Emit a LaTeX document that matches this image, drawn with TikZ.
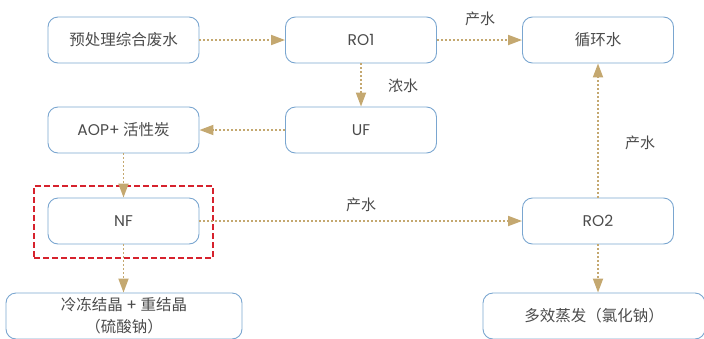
\documentclass[tikz,border=0pt]{standalone}
\usepackage{fontspec}
\setmainfont{Noto Sans CJK SC}
\newfontfamily\lat{Poppins}
\usepackage{xcolor}
\usetikzlibrary{arrows.meta, positioning}
\definecolor{boxblue}{RGB}{122, 166, 208}
\definecolor{flowtan}{RGB}{196, 168, 112}
\definecolor{textgray}{RGB}{75, 75, 75}
\definecolor{markred}{RGB}{214, 34, 45}

\begin{document}
\begin{tikzpicture}[x=1pt, y=-1pt,
    stage/.style={draw=boxblue, line width=0.9pt, rounded corners=10pt, minimum width=151pt, minimum height=46pt, text=textgray, font=\fontsize{15.5}{19}\selectfont, align=center, inner sep=0pt},
    flow/.style={flowtan, line width=1.8pt, dash pattern=on 1.8pt off 2.2pt, -{Triangle[length=14pt, width=10pt]}},
    note/.style={text=textgray, font=\fontsize{15}{18}\selectfont}]
    \useasboundingbox (0,0) rectangle (704,338);
    \clip (0,0) rectangle (704,338);

    % Process stages
    \node[stage] (pre) at (123.5, 40) {预处理综合废水};
    \node[stage] (ro1) at (361, 40) {\lat RO1};
    \node[stage] (loop) at (598, 40) {循环水};
    \node[stage] (aop) at (123.5, 130) {{\lat AOP+} 活性炭};
    \node[stage] (uf) at (361, 130) {\lat UF};
    \node[stage] (nf) at (123.5, 221) {\lat NF};
    \node[stage] (ro2) at (598, 221) {\lat RO2};
    \node[stage, minimum width=236pt] (cryst) at (124, 316) {冷冻结晶 {\lat +} 重结晶\\[3pt]（硫酸钠）};
    \node[stage, minimum width=222pt] (evap) at (594, 316) {多效蒸发（氯化钠）};

    % Highlight round NF
    \node[draw=markred, line width=1.8pt, dash pattern=on 6pt off 3pt, minimum width=179pt, minimum height=72pt, inner sep=0pt] (mark) at (123.5, 222) {};

    % Flows
    \draw[flow] (pre) -- (ro1);
    \draw[flow] (ro1) -- (loop);
    \draw[flow] (ro1) -- (uf);
    \draw[flow] (uf) -- (aop);
    \draw[flow] (aop) -- (nf);
    \draw[flow] (nf) -- (ro2);
    \draw[flow] (nf.south) -- (nf.south |- cryst.north);
    \draw[flow] (ro2) -- (loop);
    \draw[flow] (ro2.south) -- (ro2.south |- evap.north);

    % Flow labels
    \node[note] (l1) at (480, 19) {产水};
    \node[note] (l2) at (403, 86) {浓水};
    \node[note] (l3) at (640, 143) {产水};
    \node[note] (l4) at (361, 205) {产水};
\end{tikzpicture}
\end{document}
